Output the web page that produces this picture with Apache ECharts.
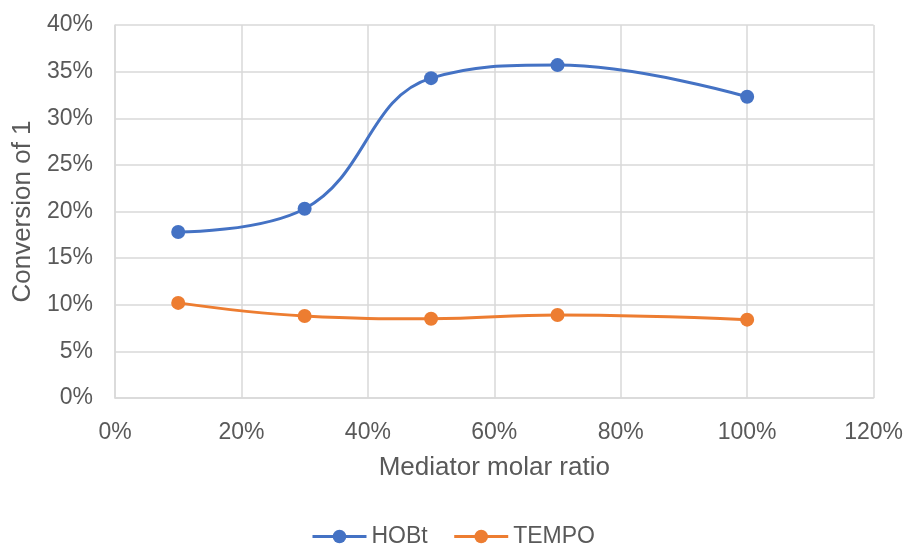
<!DOCTYPE html>
<html><head><meta charset="utf-8">
<script src="https://cdn.jsdelivr.net/npm/echarts@6/dist/echarts.min.js"></script>
<style>html,body{margin:0;padding:0;background:#fff}#c{width:906px;height:544px}</style>
</head><body><div id="c"></div>
<script>
var ratios = [0.10, 0.30, 0.50, 0.70, 1.00];
var hobt = [0.178, 0.203, 0.343, 0.357, 0.323];
var tempo = [0.102, 0.088, 0.085, 0.089, 0.084];
var seriesNames = ['HOBt', 'TEMPO'];
var xTitle = 'Mediator molar ratio';

function pairs(xs, ys){ return xs.map(function(x,i){ return [x, ys[i]]; }); }
var font = 'Liberation Sans, Arial, sans-serif';
var txt = '#595959';
var chart = echarts.init(document.getElementById('c'));
chart.setOption({
  animation: false,
  textStyle: {fontFamily: font},
  grid: {left: 115, right: 30, top: 25, bottom: 146},
  legend: {
    data: seriesNames, top: 520, left: 'center',
    itemWidth: 54, itemHeight: 17, itemGap: 25,
    lineStyle: {width: 3},
    textStyle: {fontSize: 23, color: txt, fontFamily: font}
  },
  xAxis: {
    type: 'value', min: 0, max: 1.2, interval: 0.2,
    name: xTitle, nameLocation: 'middle', nameGap: 57,
    nameTextStyle: {fontSize: 26, color: txt, fontFamily: font},
    axisLine: {show: true, lineStyle: {color: '#d9d9d9', width: 1.5}},
    axisTick: {show: false},
    axisLabel: {fontSize: 23, color: txt, margin: 23, formatter: function(v){ return Math.round(v*100) + '%'; }},
    splitLine: {show: true, lineStyle: {color: '#d9d9d9', width: 1.5}}
  },
  yAxis: {
    type: 'value', min: 0, max: 0.4, interval: 0.05,
    name: 'Conversion of 1', nameLocation: 'middle', nameGap: 69, nameRotate: 90,
    nameTextStyle: {fontSize: 26, color: txt, fontFamily: font},
    axisLine: {show: true, lineStyle: {color: '#d9d9d9', width: 1.5}},
    axisTick: {show: false},
    axisLabel: {fontSize: 23, color: txt, margin: 22, formatter: function(v){ return Math.round(v*100) + '%'; }},
    splitLine: {show: true, lineStyle: {color: '#d9d9d9', width: 1.5}}
  },
  series: [
    {name: seriesNames[0], type: 'line', data: pairs(ratios, hobt), smooth: 0.42,
     symbol: 'circle', symbolSize: 14, color: '#4472C4', lineStyle: {width: 3}},
    {name: seriesNames[1], type: 'line', data: pairs(ratios, tempo), smooth: 0.42,
     symbol: 'circle', symbolSize: 14, color: '#ED7D31', lineStyle: {width: 3}}
  ]
});
</script></body></html>
